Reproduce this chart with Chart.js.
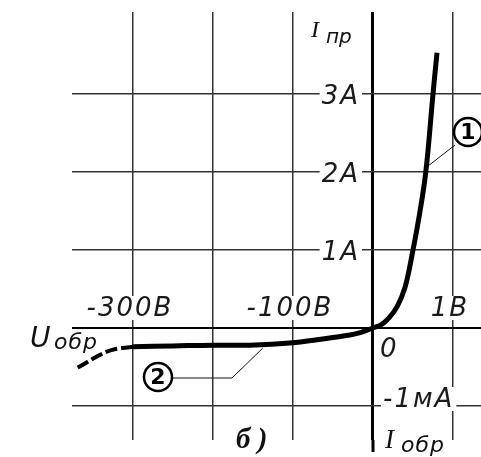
<!DOCTYPE html>
<html>
<head>
<meta charset="utf-8">
<script src="https://cdn.jsdelivr.net/npm/chart.js@4"></script>
<style>
  body { margin: 0; background: #fff; }
</style>
</head>
<body>
<canvas id="vac" width="481" height="457"></canvas>
<script>
// прямая ветвь: U (В), I (А)
var uForward = [0, 0.1, 0.2, 0.3, 0.4, 0.5, 0.58, 0.66, 0.75, 0.8];
var iForward = [0, 0.04, 0.13, 0.27, 0.52, 1.0, 1.45, 2.0, 3.0, 3.53];
// обратная ветвь: U (В), I (мА)
var uReverse = [0, -16, -29, -70, -100, -154, -200, -250, -300];
var iReverse = [0, -0.06, -0.09, -0.15, -0.19, -0.22, -0.22, -0.23, -0.24];
// пробой (пунктир)
var uBreak = [-300, -326, -344, -366, -370];
var iBreak = [-0.24, -0.28, -0.36, -0.49, -0.51];

var xTicks = [-300, -200, -100, 0, 1];
var xLabels = ["-300В", "", "-100В", "", "1В"];
var yTicks = [-1, 0, 1, 2, 3];
var yLabels = ["-1мА", "0", "1А", "2А", "3А"];

// одна клетка: 100 В влево, 1 В вправо; 1 А вверх, 1 мА вниз
function toX(u) { return u < 0 ? u / 100 : u; }
function toY(i) { return i; }
function pts(us, is) {
  return us.map(function (u, k) { return { x: toX(u), y: toY(is[k]) }; });
}

var labelFont = 'italic 26px "DejaVu Sans"';

function textBox(ctx, text, x, y, align, pad) {
  ctx.textAlign = align;
  var w = ctx.measureText(text).width;
  var left = align === "right" ? x - w : align === "center" ? x - w / 2 : x;
  ctx.fillStyle = "#fff";
  ctx.fillRect(left - pad, y - 20, w + pad * 2, 24);
  ctx.fillStyle = "#1a1a1a";
  ctx.fillText(text, x, y);
}

var drawText = {
  id: "drawText",
  afterDraw: function (chart) {
    var ctx = chart.ctx, xs = chart.scales.x, ys = chart.scales.y;
    var x0 = xs.getPixelForValue(0), y0 = ys.getPixelForValue(0);
    ctx.save();
    // ось тока уходит ниже сетки
    ctx.strokeStyle = "#000";
    ctx.lineWidth = 3;
    ctx.beginPath();
    ctx.moveTo(x0, chart.chartArea.bottom);
    ctx.lineTo(x0, 452);
    ctx.stroke();

    ctx.font = labelFont;
    ctx.letterSpacing = "2px";
    ctx.textBaseline = "alphabetic";
    xTicks.forEach(function (v, k) {
      if (!xLabels[k]) return;
      textBox(ctx, xLabels[k], xs.getPixelForValue(toX(v)) - 3, y0 - 12, "center", 2);
    });
    yTicks.forEach(function (v, k) {
      var py = ys.getPixelForValue(toY(v));
      if (v > 0) textBox(ctx, yLabels[k], x0 - 13, py + 10, "right", 2);
      else if (v < 0) textBox(ctx, yLabels[k], x0 + 10, py + 1, "left", 2);
      else { ctx.textAlign = "left"; ctx.fillStyle = "#1a1a1a"; ctx.fillText(yLabels[k], x0 + 7, py + 29); }
    });

    // подписи осей
    ctx.letterSpacing = "0px";
    ctx.textAlign = "left";
    ctx.fillStyle = "#111";
    ctx.font = 'italic 24px "Liberation Serif"';
    ctx.fillText("I", 311, 37);
    ctx.font = 'italic 20px "DejaVu Sans"';
    ctx.fillText("пр", 326, 43);

    ctx.font = 'italic 28px "DejaVu Sans"';
    ctx.fillText("U", 30, 347);
    ctx.font = 'italic 22px "DejaVu Sans"';
    ctx.letterSpacing = "1px";
    ctx.fillText("обр", 54, 349);
    ctx.letterSpacing = "0px";

    ctx.font = 'italic 27px "Liberation Serif"';
    ctx.fillText("I", 385, 448);
    ctx.font = 'italic 22px "DejaVu Sans"';
    ctx.letterSpacing = "1px";
    ctx.fillText("обр", 401, 452);
    ctx.letterSpacing = "0px";

    ctx.font = 'bold italic 29px "Liberation Serif"';
    ctx.fillText("б )", 236, 448);

    // выноски 1 и 2
    ctx.strokeStyle = "#111";
    ctx.lineWidth = 1;
    ctx.beginPath();
    ctx.moveTo(455, 145);
    ctx.lineTo(xs.getPixelForValue(0.68), ys.getPixelForValue(2.07));
    ctx.moveTo(172, 378);
    ctx.lineTo(232, 378);
    ctx.lineTo(xs.getPixelForValue(toX(-138)), ys.getPixelForValue(-0.26));
    ctx.stroke();

    [[468, 132, "1"], [158, 377, "2"]].forEach(function (c) {
      ctx.beginPath();
      ctx.arc(c[0], c[1], 14, 0, Math.PI * 2);
      ctx.fillStyle = "#fff";
      ctx.fill();
      ctx.lineWidth = 2.5;
      ctx.strokeStyle = "#000";
      ctx.stroke();
      ctx.fillStyle = "#000";
      ctx.font = 'bold 22px "DejaVu Sans"';
      ctx.textAlign = "center";
      ctx.textBaseline = "middle";
      ctx.fillText(c[2], c[0], c[1] + 1);
      ctx.textBaseline = "alphabetic";
    });
    ctx.restore();
  }
};

new Chart("vac", {
  type: "line",
  data: {
    datasets: [{
      data: pts(uForward, iForward),
      borderColor: "#000",
      borderWidth: 5,
      borderCapStyle: "butt",
      tension: 0.4,
      pointRadius: 0,
      fill: false
    }, {
      data: pts(uReverse, iReverse),
      borderColor: "#000",
      borderWidth: 5,
      tension: 0.4,
      pointRadius: 0,
      fill: false
    }, {
      data: pts(uBreak, iBreak),
      borderColor: "#000",
      borderWidth: 4,
      borderDash: [12, 4],
      tension: 0.4,
      pointRadius: 0,
      fill: false
    }]
  },
  options: {
    responsive: false,
    animation: false,
    layout: { padding: { left: 72, top: 12, right: 0, bottom: 17 } },
    plugins: { legend: { display: false }, tooltip: { enabled: false } },
    scales: {
      x: {
        type: "linear",
        min: -3.7625,
        max: 1.35,
        afterBuildTicks: function (s) { s.ticks = xTicks.map(function (v) { return { value: toX(v) }; }); },
        afterFit: function (s) { s.height = 0; },
        ticks: { display: false },
        border: { display: false },
        grid: {
          drawTicks: false,
          color: function (c) { return c.tick && c.tick.value === 0 ? "#000" : "#333"; },
          lineWidth: function (c) { return c.tick && c.tick.value === 0 ? 3 : 1.5; }
        }
      },
      y: {
        type: "linear",
        min: -1.436,
        max: 4.051,
        afterBuildTicks: function (s) { s.ticks = yTicks.map(function (v) { return { value: toY(v) }; }); },
        afterFit: function (s) { s.width = 0; },
        ticks: { display: false },
        border: { display: false },
        grid: {
          drawTicks: false,
          color: function (c) { return c.tick && c.tick.value === 0 ? "#000" : "#333"; },
          lineWidth: function (c) { return c.tick && c.tick.value === 0 ? 2 : 1.5; }
        }
      }
    }
  },
  plugins: [drawText]
});
</script>
</body>
</html>
